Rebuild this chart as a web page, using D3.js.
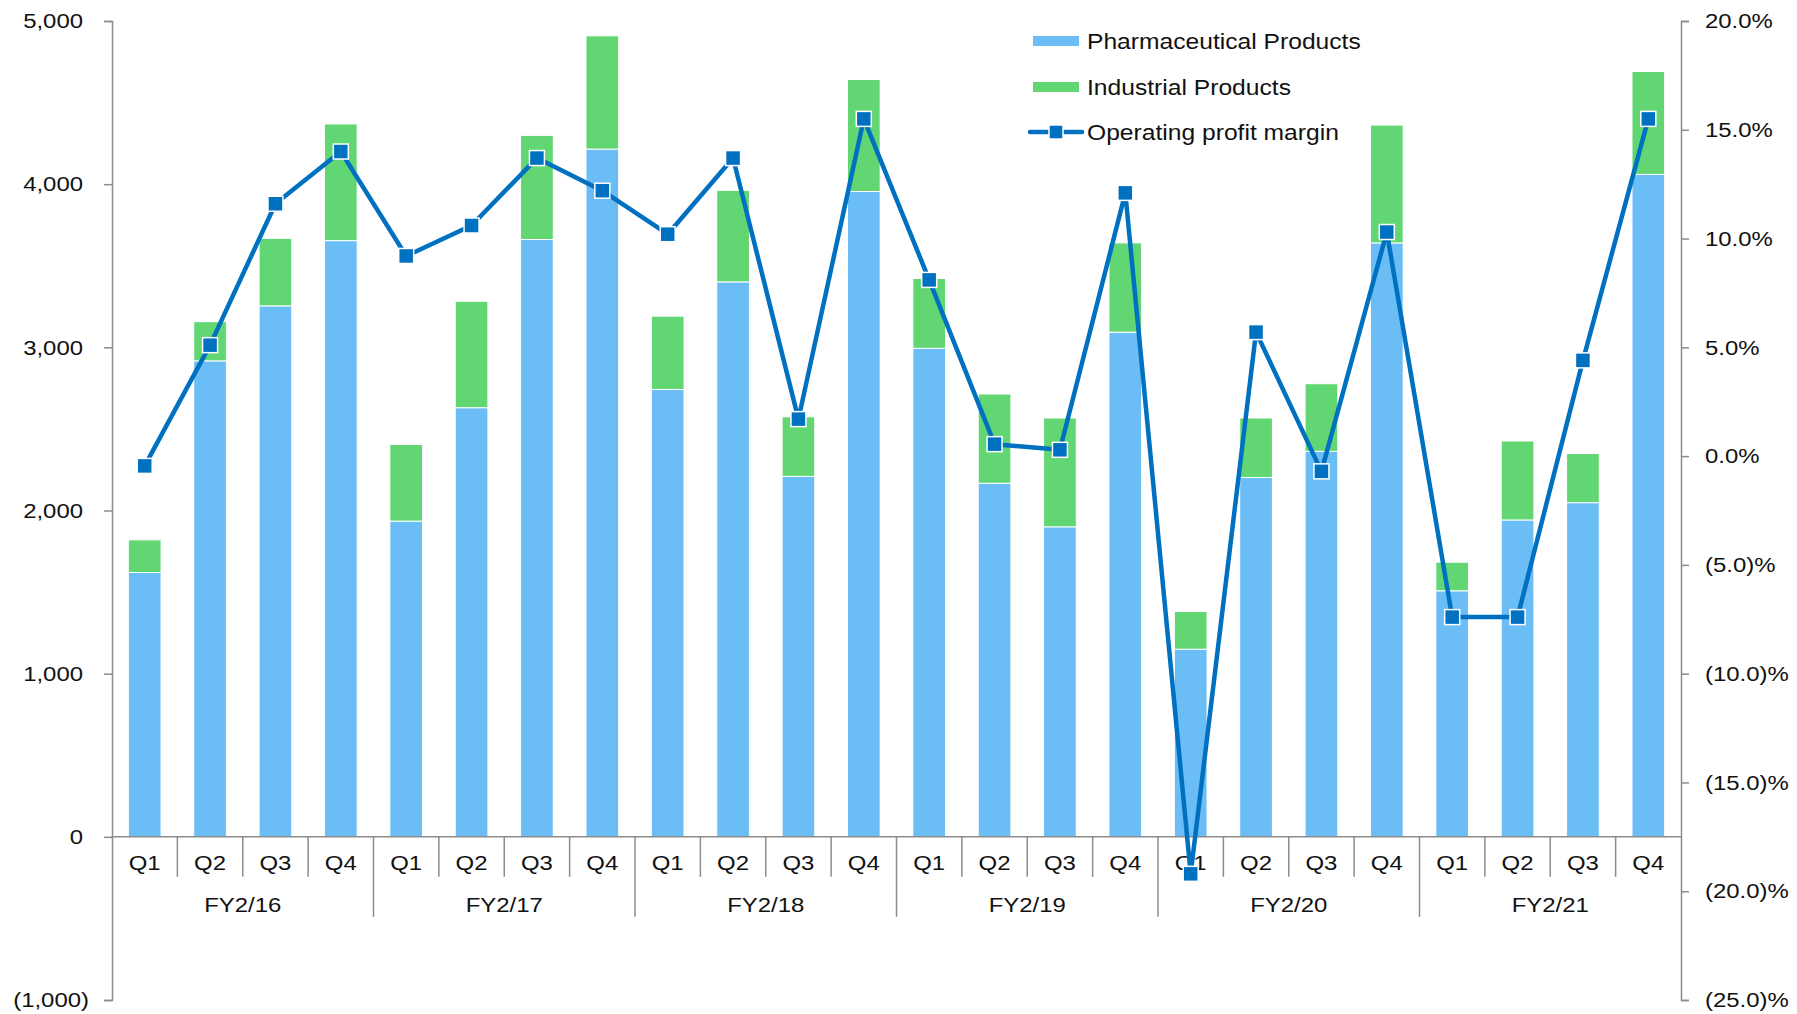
<!DOCTYPE html>
<html>
<head>
<meta charset="utf-8">
<script src="https://cdn.jsdelivr.net/npm/d3@7"></script>
<style>
  html, body { margin: 0; padding: 0; background: #fff; }
  svg { display: block; font-family: "Liberation Sans", Arial, sans-serif; }
</style>
</head>
<body>
<svg id="chart" width="1797" height="1014"></svg>
<script>
// ---- data ----
const fiscalYears = ["FY2/16", "FY2/17", "FY2/18", "FY2/19", "FY2/20", "FY2/21"];
const quarters = ["Q1", "Q2", "Q3", "Q4"];
const pharmaceutical = [1620, 2917, 3254, 3654, 1935, 2630, 3661, 4215, 2742, 3401, 2209, 3955,
                        2994, 2167, 1900, 3093, 1150, 2202, 2363, 3640, 1508, 1942, 2048, 4060];
const industrial = [200, 240, 414, 715, 470, 652, 638, 694, 449, 561, 365, 687,
                    428, 547, 667, 547, 231, 365, 414, 722, 175, 484, 301, 631];
const operatingMargin = [-0.45, 5.1, 11.6, 14.0, 9.2, 10.6, 13.7, 12.2, 10.2, 13.7, 1.7, 15.5,
                         8.1, 0.55, 0.29, 12.1, -19.2, 5.7, -0.7, 10.3, -7.4, -7.4, 4.4, 15.5];
const leftTicks = [-1000, 0, 1000, 2000, 3000, 4000, 5000];
const rightTicks = [-25, -20, -15, -10, -5, 0, 5, 10, 15, 20];
const seriesNames = ["Pharmaceutical Products", "Industrial Products", "Operating profit margin"];
const colors = { pharma: "#6BBDF5", industrial: "#62D672", line: "#0070C0", axis: "#8C8C8C" };

// ---- layout ----
const svg = d3.select("#chart");
const plotLeft = 112, plotRight = 1681, plotTop = 21, plotBottom = 1000;
const n = pharmaceutical.length;
const idx = d3.range(n);
const SX = 1.14; // horizontal stretch of the text glyphs

function stretch(sel, sx) {
  sel.each(function () {
    const t = d3.select(this);
    const xa = +t.attr("x") || 0;
    t.attr("transform", `translate(${xa * (1 - sx)},0) scale(${sx},1)`);
  });
}

const x = d3.scaleBand().domain(idx).range([plotLeft, plotRight]).paddingInner(0.5).paddingOuter(0.25);
const yL = d3.scaleLinear().domain([-1000, 5000]).range([plotBottom, plotTop]);
const yR = d3.scaleLinear().domain([-25, 20]).range([plotBottom, plotTop]);

const fmtL = v => v < 0 ? "(" + d3.format(",")(-v) + ")" : d3.format(",")(v);
const fmtR = v => v < 0 ? "(" + d3.format(".1f")(-v) + ")%" : d3.format(".1f")(v) + "%";

// ---- bars ----
const stacks = idx.map(i => ({ i, p: pharmaceutical[i], ind: industrial[i] }));
const g = svg.append("g");
g.selectAll("rect.pharma").data(stacks).join("rect")
  .attr("class", "pharma")
  .attr("x", d => x(d.i)).attr("width", x.bandwidth())
  .attr("y", d => yL(d.p)).attr("height", d => yL(0) - yL(d.p))
  .attr("fill", colors.pharma).attr("stroke", "#fff").attr("stroke-width", 1);
g.selectAll("rect.ind").data(stacks).join("rect")
  .attr("class", "ind")
  .attr("x", d => x(d.i)).attr("width", x.bandwidth())
  .attr("y", d => yL(d.p + d.ind)).attr("height", d => yL(d.p) - yL(d.p + d.ind))
  .attr("fill", colors.industrial).attr("stroke", "#fff").attr("stroke-width", 1);

// ---- category axis ----
const y0 = yL(0);
const step = x.step();
const axisG = svg.append("g");
axisG.append("line").attr("x1", plotLeft).attr("x2", plotRight).attr("y1", y0).attr("y2", y0)
  .attr("stroke", colors.axis).attr("stroke-width", 1.5);
d3.range(1, n).forEach(k => {
  const xs = plotLeft + k * step;
  const isGroup = k % 4 === 0;
  axisG.append("line").attr("x1", xs).attr("x2", xs).attr("y1", y0)
    .attr("y2", y0 + (isGroup ? 80 : 40))
    .attr("stroke", colors.axis).attr("stroke-width", 1.5);
});
axisG.selectAll("text.q").data(idx).join("text")
  .attr("class", "q")
  .attr("x", i => x(i) + x.bandwidth() / 2).attr("y", y0 + 33)
  .attr("text-anchor", "middle").attr("font-size", 21).attr("fill", "#111")
  .text(i => quarters[i % 4])
  .call(stretch, SX);
axisG.selectAll("text.fy").data(fiscalYears).join("text")
  .attr("class", "fy")
  .attr("x", (d, j) => plotLeft + (j * 4 + 2) * step).attr("y", y0 + 75)
  .attr("text-anchor", "middle").attr("font-size", 21).attr("fill", "#111")
  .text(d => d)
  .call(stretch, SX);

// ---- value axes ----
const la = svg.append("g").attr("transform", `translate(${plotLeft},0)`)
  .call(d3.axisLeft(yL).tickValues(leftTicks).tickSize(8).tickPadding(21).tickFormat(fmtL));
const ra = svg.append("g").attr("transform", `translate(${plotRight},0)`)
  .call(d3.axisRight(yR).tickValues(rightTicks).tickSize(8).tickPadding(16).tickFormat(fmtR));
// negative labels on the left axis hang their closing parenthesis past the column edge
la.selectAll(".tick text").filter(d => d < 0).attr("x", function () { return +d3.select(this).attr("x") + 6; });
[la, ra].forEach(a => {
  a.select(".domain").attr("stroke", colors.axis).attr("stroke-width", 1.5);
  a.selectAll(".tick line").attr("stroke", colors.axis).attr("stroke-width", 1.5);
  a.selectAll(".tick text").attr("font-size", 21).attr("fill", "#111")
    .attr("font-family", "Liberation Sans, Arial, sans-serif")
    .call(stretch, SX);
});

// ---- line ----
const line = d3.line().x(i => x(i) + x.bandwidth() / 2).y(i => yR(operatingMargin[i]));
svg.append("path").datum(idx).attr("d", line)
  .attr("fill", "none").attr("stroke", colors.line).attr("stroke-width", 4.5)
  .attr("stroke-linejoin", "round");
const ms = 15;
svg.selectAll("rect.marker").data(idx).join("rect")
  .attr("class", "marker")
  .attr("x", i => x(i) + x.bandwidth() / 2 - ms / 2)
  .attr("y", i => yR(operatingMargin[i]) - ms / 2)
  .attr("width", ms).attr("height", ms)
  .attr("fill", colors.line).attr("stroke", "#fff").attr("stroke-width", 1.5);

// ---- legend ----
const lg = svg.append("g").attr("transform", "translate(1033,0)");
const rowsY = [41, 87, 132];
lg.append("rect").attr("x", 0).attr("y", rowsY[0] - 5).attr("width", 46).attr("height", 10).attr("fill", colors.pharma);
lg.append("rect").attr("x", 0).attr("y", rowsY[1] - 5).attr("width", 46).attr("height", 10).attr("fill", colors.industrial);
lg.append("line").attr("x1", -3).attr("x2", 49).attr("y1", rowsY[2]).attr("y2", rowsY[2])
  .attr("stroke", colors.line).attr("stroke-width", 4.5).attr("stroke-linecap", "round");
lg.append("rect").attr("x", 23 - 7).attr("y", rowsY[2] - 7).attr("width", 14).attr("height", 14)
  .attr("fill", colors.line).attr("stroke", "#fff").attr("stroke-width", 1.5);
lg.selectAll("text").data(seriesNames).join("text")
  .attr("x", 54).attr("y", (d, i) => rowsY[i]).attr("dy", "0.36em")
  .attr("font-size", 22).attr("fill", "#111").text(d => d)
  .call(stretch, 1.12);
</script>
</body>
</html>
